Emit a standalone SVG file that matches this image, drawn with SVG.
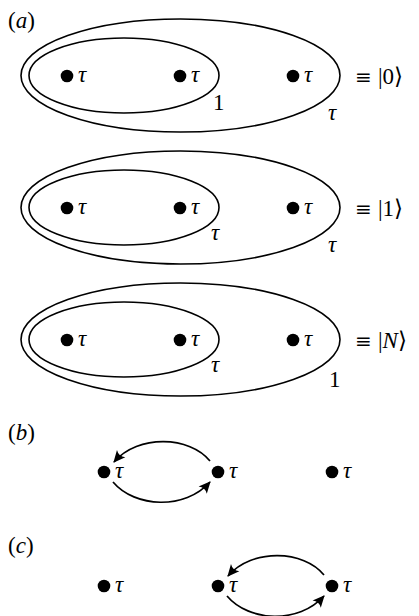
<svg xmlns="http://www.w3.org/2000/svg" width="419" height="616" viewBox="0 0 419 616">
<defs>
<style>
.e{fill:none;stroke:#000;stroke-width:1.6}
.d{fill:#000}
.t{font-family:"Liberation Serif","DejaVu Serif",serif;font-style:italic;font-size:23px;fill:#000}
.n{font-family:"Liberation Serif","DejaVu Serif",serif;font-size:23px;fill:#000}
.q{font-family:"DejaVu Serif",serif;font-size:20px;fill:#000}
.a{fill:none;stroke:#000;stroke-width:1.7}
</style>
<marker id="ah" markerUnits="userSpaceOnUse" markerWidth="16" markerHeight="14" refX="0" refY="0" viewBox="-14 -7 16 14" orient="auto" overflow="visible">
<path d="M1,0 L-11,-5.5 Q-7,0 -11,5.5 Z" fill="#000"/>
</marker>
</defs>
<text class="n" x="8" y="28">(<tspan font-style="italic">a</tspan>)</text>
<text class="n" x="8" y="440">(<tspan font-style="italic">b</tspan>)</text>
<text class="n" x="8" y="553">(<tspan font-style="italic">c</tspan>)</text>

<g id="state0">
<ellipse class="e" cx="180.5" cy="75.5" rx="159.5" ry="56.5"/>
<ellipse class="e" cx="124" cy="75.5" rx="95" ry="37.5"/>
<circle class="d" cx="67" cy="76" r="6.3"/><text class="t" x="78" y="82">τ</text>
<circle class="d" cx="180" cy="76" r="6.3"/><text class="t" x="191" y="82">τ</text>
<circle class="d" cx="293" cy="76" r="6.3"/><text class="t" x="304" y="82">τ</text>
<text class="n" x="213" y="110">1</text>
<text class="t" x="328" y="120">τ</text>
<text class="q" x="355" y="84">≡</text><text class="n" x="378" y="84">|0⟩</text>
</g>

<g id="state1">
<ellipse class="e" cx="180.5" cy="207.5" rx="159.5" ry="56.5"/>
<ellipse class="e" cx="124" cy="207.5" rx="95" ry="37.5"/>
<circle class="d" cx="67" cy="208" r="6.3"/><text class="t" x="78" y="214">τ</text>
<circle class="d" cx="180" cy="208" r="6.3"/><text class="t" x="191" y="214">τ</text>
<circle class="d" cx="293" cy="208" r="6.3"/><text class="t" x="304" y="214">τ</text>
<text class="t" x="211" y="240">τ</text>
<text class="t" x="328" y="252">τ</text>
<text class="q" x="355" y="216">≡</text><text class="n" x="378" y="216">|1⟩</text>
</g>

<g id="stateN">
<ellipse class="e" cx="180.5" cy="339.5" rx="159.5" ry="56.5"/>
<ellipse class="e" cx="124" cy="339.5" rx="95" ry="37.5"/>
<circle class="d" cx="67" cy="340" r="6.3"/><text class="t" x="78" y="346">τ</text>
<circle class="d" cx="180" cy="340" r="6.3"/><text class="t" x="191" y="346">τ</text>
<circle class="d" cx="293" cy="340" r="6.3"/><text class="t" x="304" y="346">τ</text>
<text class="t" x="211" y="372">τ</text>
<text class="n" x="329" y="387">1</text>
<text class="q" x="355" y="348">≡</text><text class="n" x="378" y="348">|<tspan font-style="italic">N</tspan>⟩</text>
</g>

<g id="panel-b">
<g id="b1"><circle class="d" cx="104" cy="472" r="6.3"/><text class="t" x="115" y="478">τ</text></g>
<g id="b2"><circle class="d" cx="218" cy="472" r="6.3"/><text class="t" x="229" y="478">τ</text></g>
<g id="b3"><circle class="d" cx="332" cy="472" r="6.3"/><text class="t" x="343" y="478">τ</text></g>
</g>

<g id="panel-c">
<g id="c1"><circle class="d" cx="104" cy="586" r="6.3"/><text class="t" x="115" y="592">τ</text></g>
<g id="c2"><circle class="d" cx="218" cy="586" r="6.3"/><text class="t" x="229" y="592">τ</text></g>
<g id="c3"><circle class="d" cx="332" cy="586" r="6.3"/><text class="t" x="343" y="592">τ</text></g>
</g>

<g id="connectors">
<path class="a" d="M210,461 C190,436 138,434 114,462" marker-end="url(#ah)"/>
<path class="a" d="M113,482 C135,508 185,510 210,482" marker-end="url(#ah)"/>
<path class="a" d="M324,575 C304,550 252,548 228,576" marker-end="url(#ah)"/>
<path class="a" d="M227,596 C249,622 299,624 324,596" marker-end="url(#ah)"/>
</g>
</svg>
